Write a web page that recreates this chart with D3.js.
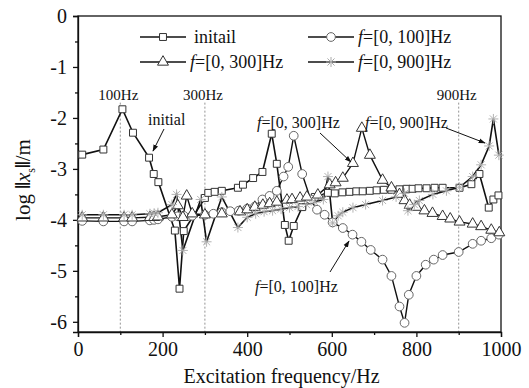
<!DOCTYPE html>
<html>
<head>
<meta charset="utf-8">
<script src="https://cdn.jsdelivr.net/npm/d3@7"></script>
<style>
  body { margin: 0; background: #fff; }
  svg { font-family: "Liberation Serif", "Times New Roman", serif; }
  .axis path, .axis line { stroke: #111; stroke-width: 1.3; }
</style>
</head>
<body>
<svg id="chart" width="529" height="388"></svg>
<script>
// ---- data ----
const initFreq = [10, 60, 105, 130, 168, 179, 190, 229, 240, 250, 300, 308, 323, 340, 378, 390, 414, 436, 458, 470, 489, 498, 510, 530, 560, 591, 607, 625, 642, 658, 673, 690, 706, 723, 741, 760, 777, 791, 805, 824, 843, 862, 902, 930, 949, 971, 982, 994];
const initVal  = [-2.72, -2.62, -1.83, -2.29, -2.78, -3.1, -3.26, -4.21, -5.35, -4.22, -3.57, -3.47, -3.45, -3.43, -3.37, -3.31, -3.18, -3.06, -2.31, -2.9, -4.1, -4.41, -4.12, -3.75, -3.55, -3.47, -3.48, -3.46, -3.45, -3.44, -3.44, -3.43, -3.42, -3.41, -3.41, -3.4, -3.39, -3.39, -3.38, -3.38, -3.37, -3.37, -3.37, -3.3, -3.1, -3.76, -3.6, -3.52];

const f100Freq = [10, 60, 109, 128, 170, 180, 189, 222, 236, 250, 270, 300, 320, 340, 360, 380, 400, 418, 436, 453, 470, 486, 497, 510, 530, 550, 565, 583, 602, 626, 649, 670, 692, 720, 741, 760, 772, 782, 800, 822, 841, 862, 900, 933, 953, 977, 995];
const f100Val  = [-4.02, -4.03, -4.03, -4.03, -4.01, -4.0, -3.99, -3.94, -3.93, -3.92, -3.92, -3.9, -3.88, -3.85, -3.83, -3.82, -3.78, -3.74, -3.6, -3.53, -3.43, -3.15, -2.96, -2.35, -3.1, -3.6, -3.8, -3.9, -4.05, -4.16, -4.29, -4.43, -4.59, -4.78, -5.1, -5.7, -6.02, -5.47, -5.1, -4.88, -4.78, -4.69, -4.63, -4.47, -4.41, -4.36, -4.29];

const f300Freq = [10, 60, 109, 128, 170, 180, 189, 222, 236, 248, 257, 270, 300, 340, 383, 400, 418, 437, 453, 470, 494, 506, 525, 541, 567, 595, 609, 626, 650, 671, 690, 720, 741, 760, 772, 784, 800, 819, 838, 862, 880, 902, 933, 953, 977, 996];
const f300Val  = [-3.96, -3.96, -3.96, -3.96, -3.95, -3.95, -3.94, -3.9, -3.72, -3.95, -3.53, -3.88, -3.9, -3.88, -3.84, -3.8, -3.75, -3.71, -3.68, -3.65, -3.61, -3.6, -3.57, -3.55, -3.51, -3.31, -3.27, -3.18, -2.89, -2.2, -2.73, -3.22, -3.37, -3.5, -3.62, -3.71, -3.75, -3.82, -3.87, -3.93, -3.98, -4.04, -4.08, -4.13, -4.2, -4.25];

const f900Freq = [10, 60, 109, 128, 170, 180, 189, 222, 233, 248, 290, 304, 340, 378, 400, 420, 440, 460, 480, 500, 520, 540, 560, 580, 591, 602, 615, 626, 650, 680, 720, 752, 772, 780, 795, 807, 839, 871, 902, 933, 953, 972, 982, 995];
const f900Val  = [-3.9, -3.9, -3.9, -3.9, -3.88, -3.87, -3.86, -3.7, -3.5, -4.6, -3.6, -4.43, -3.55, -4.15, -3.95, -3.88, -3.84, -3.82, -3.79, -3.76, -3.74, -3.7, -3.65, -3.6, -3.15, -4.06, -3.92, -3.85, -3.76, -3.7, -3.62, -3.55, -3.48, -3.82, -3.7, -3.62, -3.5, -3.43, -3.36, -3.15, -2.92, -2.55, -2.02, -2.73];

const xTicks = [0, 200, 400, 600, 800, 1000];
const xMinor = [100, 300, 500, 700, 900];
const yTicks = [0, -1, -2, -3, -4, -5, -6];
const yMinor = [-0.5, -1.5, -2.5, -3.5, -4.5, -5.5];
const markLines = [100, 300, 900];

const serif = '"Liberation Serif", "Times New Roman", serif';
const svg = d3.select('#chart');
const margin = { top: 16, right: 28, bottom: 56, left: 78 };
const width = 529 - margin.left - margin.right;   // plot width
const height = 388 - margin.top - margin.bottom;  // plot height

const x = d3.scaleLinear().domain([0, 1000]).range([0, width]);
const y = d3.scaleLinear().domain([-6.2, 0]).range([height, 0]);

const chart = svg.append('g').attr('transform', `translate(${margin.left},${margin.top})`);

// arrow head
svg.append('defs').append('marker')
  .attr('id', 'arr').attr('viewBox', '0 0 10 10').attr('refX', 9).attr('refY', 5)
  .attr('markerWidth', 7).attr('markerHeight', 7).attr('orient', 'auto')
  .append('path').attr('d', 'M0,1.5 L10,5 L0,8.5 Z').attr('fill', '#111');

// dashed reference lines
chart.selectAll('.vline').data(markLines).enter().append('line')
  .attr('x1', d => x(d)).attr('x2', d => x(d))
  .attr('y1', y(-1.7)).attr('y2', height)
  .attr('stroke', '#888').attr('stroke-width', 0.9).attr('stroke-dasharray', '2,2');

chart.selectAll('.vlab').data(markLines).enter().append('text')
  .attr('x', d => x(d) - 2).attr('y', y(-1.65))
  .attr('text-anchor', 'middle').attr('font-size', 15).attr('fill', '#111')
  .text(d => d + 'Hz');

// axes
const styleAxis = g => g.attr('font-family', serif).attr('font-size', 20)
  .selectAll('text').attr('fill', '#111');
chart.append('g').attr('class', 'axis').attr('transform', `translate(0,${height})`)
  .call(d3.axisBottom(x).tickValues(xTicks).tickSize(5).tickPadding(5).tickFormat(d => String(d)))
  .call(styleAxis);
chart.append('g').attr('class', 'axis').attr('transform', `translate(0,${height})`)
  .call(d3.axisBottom(x).tickValues(xMinor).tickSize(3).tickFormat(''))
  .select('.domain').remove();
chart.append('g').attr('class', 'axis')
  .call(d3.axisLeft(y).tickValues(yTicks).tickSize(5).tickPadding(6).tickFormat(d => String(d)))
  .call(styleAxis);
chart.append('g').attr('class', 'axis')
  .call(d3.axisLeft(y).tickValues(yMinor).tickSize(3).tickFormat(''))
  .select('.domain').remove();

// frame
chart.append('rect').attr('x', 0).attr('y', 0).attr('width', width).attr('height', height)
  .attr('fill', 'none').attr('stroke', '#111').attr('stroke-width', 1.3);

// marker shapes
const symSquare = d3.symbol().type(d3.symbolSquare).size(48);
const symCircle = d3.symbol().type(d3.symbolCircle).size(60);
const symTri = d3.symbol().type(d3.symbolTriangle).size(52);
const starPath = (r) => {
  let p = '';
  for (let i = 0; i < 4; i++) {
    const a = i * Math.PI / 4;
    p += `M${-r * Math.cos(a)},${-r * Math.sin(a)}L${r * Math.cos(a)},${r * Math.sin(a)}`;
  }
  return p;
};

const series = [
  { name: 'initail', f: initFreq, v: initVal, sym: symSquare(), stroke: '#333', lw: 1.6 },
  { name: '100', f: f100Freq, v: f100Val, sym: symCircle(), stroke: '#666', lw: 1.4 },
  { name: '300', f: f300Freq, v: f300Val, sym: symTri(), stroke: '#333', lw: 1.4 },
  { name: '900', f: f900Freq, v: f900Val, sym: starPath(5), stroke: '#aaa', lw: 1.6, star: true },
];

const line = d3.line().x(d => x(d[0])).y(d => y(d[1]));

series.forEach(s => {
  const pts = s.f.map((f, i) => [f, s.v[i]]);
  chart.append('path').datum(pts).attr('d', line)
    .attr('fill', 'none').attr('stroke', '#111').attr('stroke-width', s.lw);
});
series.forEach(s => {
  const pts = s.f.map((f, i) => [f, s.v[i]]);
  chart.selectAll(null).data(pts).enter().append('path')
    .attr('transform', d => `translate(${x(d[0])},${y(d[1])})`)
    .attr('d', s.sym)
    .attr('fill', s.star ? 'none' : '#fff')
    .attr('stroke', s.stroke).attr('stroke-width', s.star ? 0.9 : 1);
});

// legend
const legend = [
  { s: series[0], lx: 140, ly: 37, label: [['initail', false]] },
  { s: series[1], lx: 308, ly: 37, label: [['f', true], ['=[0, 100]Hz', false]] },
  { s: series[2], lx: 140, ly: 62, label: [['f', true], ['=[0, 300]Hz', false]] },
  { s: series[3], lx: 308, ly: 62, label: [['f', true], ['=[0, 900]Hz', false]] },
];
legend.forEach(l => {
  const g = svg.append('g');
  g.append('line').attr('x1', l.lx).attr('x2', l.lx + 46).attr('y1', l.ly).attr('y2', l.ly)
    .attr('stroke', '#111').attr('stroke-width', 1.5);
  g.append('path').attr('transform', `translate(${l.lx + 23},${l.ly})`).attr('d', l.s.sym)
    .attr('fill', l.s.star ? 'none' : '#fff').attr('stroke', l.s.stroke).attr('stroke-width', 1);
  const t = g.append('text').attr('x', l.lx + (l.s.name === 'initail' ? 54 : 50)).attr('y', l.ly + 6)
    .attr('font-size', 18).attr('fill', '#111');
  l.label.forEach(p => t.append('tspan').attr('font-style', p[1] ? 'italic' : 'normal').text(p[0]));
});

// annotations
const notes = [
  { tx: 148, ty: 125, parts: [['initial', false]], a: [164, 129, 153, 151] },
  { tx: 257, ty: 128, parts: [['f', true], ['=[0, 300]Hz', false]], a: [320, 133, 351, 162] },
  { tx: 365, ty: 128, parts: [['f', true], ['=[0, 900]Hz', false]], a: [446, 128, 485, 143] },
  { tx: 255, ty: 292, parts: [['f', true], ['=[0, 100]Hz', false]], a: [330, 272, 349, 241] },
];
notes.forEach(n => {
  const t = svg.append('text').attr('x', n.tx).attr('y', n.ty).attr('font-size', 16).attr('fill', '#111');
  n.parts.forEach(p => t.append('tspan').attr('font-style', p[1] ? 'italic' : 'normal').text(p[0]));
  svg.append('line').attr('x1', n.a[0]).attr('y1', n.a[1]).attr('x2', n.a[2]).attr('y2', n.a[3])
    .attr('stroke', '#111').attr('stroke-width', 1).attr('marker-end', 'url(#arr)');
});

// axis titles
svg.append('text').attr('x', margin.left + x(500) - 8).attr('y', 383)
  .attr('text-anchor', 'middle').attr('font-size', 20).attr('fill', '#111')
  .text('Excitation frequency/Hz');

const yl = svg.append('text').attr('transform', 'translate(30,180) rotate(-90)')
  .attr('text-anchor', 'middle').attr('font-size', 21).attr('fill', '#111');
yl.append('tspan').text('log ');
yl.append('tspan').attr('font-weight', 'bold').text('\u2016');
yl.append('tspan').attr('font-style', 'italic').text('x');
yl.append('tspan').attr('font-size', 12).attr('dy', 5).text('s');
yl.append('tspan').attr('dy', -5).attr('font-weight', 'bold').text('\u2016');
yl.append('tspan').text('/m');
</script>
</body>
</html>
